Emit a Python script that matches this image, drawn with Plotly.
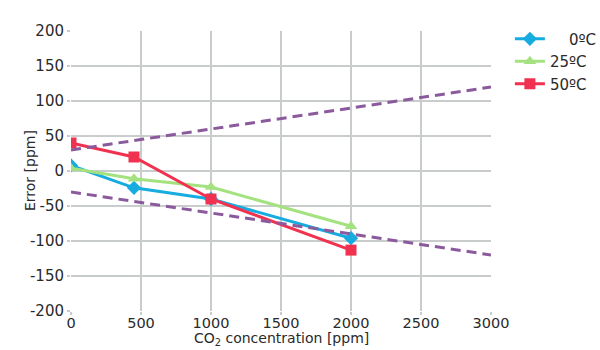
import plotly.graph_objects as go

co2 = [0, 450, 1000, 2000]
err_0c = [8, -24, -40, -96]
err_25c = [4, -11, -23, -79]
err_50c = [40, 20, -40, -113]

tol_x = [0, 3000]
tol_upper = [30, 120]
tol_lower = [-30, -120]

y_ticks = [-200, -150, -100, -50, 0, 50, 100, 150, 200]
y_tick_labels = ["-200", "-150", "-100", "-50", "0", "50", "100", "150", "200"]

names = ["\u2007\u20070ºC", "25ºC", "50ºC"]
series = [err_0c, err_25c, err_50c]
colors = ["#16ACDF", "#A3E27F", "#F0314F"]
symbols = ["diamond", "triangle-up", "square"]

fig = go.Figure()
for name, ys, c, s in zip(names, series, colors, symbols):
    fig.add_trace(go.Scatter(x=co2, y=ys, name=name, mode="lines+markers",
                             line=dict(color=c, width=3),
                             marker=dict(symbol=s, size=11, color=c)))
for ys in (tol_upper, tol_lower):
    fig.add_trace(go.Scatter(x=tol_x, y=ys, mode="lines", showlegend=False,
                             line=dict(color="#8B5A9C", width=3, dash="10px,6px")))

grid = "#C8CCCC"
fig.update_layout(
    width=600, height=350,
    margin=dict(l=71, r=109, t=31, b=39, autoexpand=False),
    paper_bgcolor="white", plot_bgcolor="white",
    font=dict(family="DejaVu Sans", size=15, color="#2a2a2a"),
    legend=dict(x=1.045, y=1.03, xanchor="left", yanchor="top",
                font=dict(size=15), tracegroupgap=0, itemwidth=30),
    xaxis=dict(range=[0, 3000], dtick=500, showgrid=True, gridcolor=grid,
               gridwidth=2, zeroline=False, showline=False,
               ticks="outside", ticklen=3, tickwidth=2, tickcolor=grid,
               ticklabelstandoff=-4, tickfont=dict(size=14.5)),
    yaxis=dict(range=[-200, 200], tickvals=y_ticks, ticktext=y_tick_labels,
               showgrid=True, gridcolor=grid,
               gridwidth=2, zeroline=False, showline=False,
               ticks="outside", ticklen=3, tickwidth=2, tickcolor=grid),
    annotations=[
        dict(text="Error [ppm]", textangle=-90, xref="paper", yref="paper",
             x=-41 / 420, y=0.5, xanchor="center", yanchor="middle",
             showarrow=False, font=dict(size=14)),
        dict(text="CO<sub>2</sub> concentration [ppm]", xref="paper", yref="paper",
             x=0.5 * 420 / 420 - 0.0, y=-39 / 280, xanchor="center", yanchor="bottom",
             showarrow=False, font=dict(size=14)),
    ],
)
fig.write_html("out.html")
